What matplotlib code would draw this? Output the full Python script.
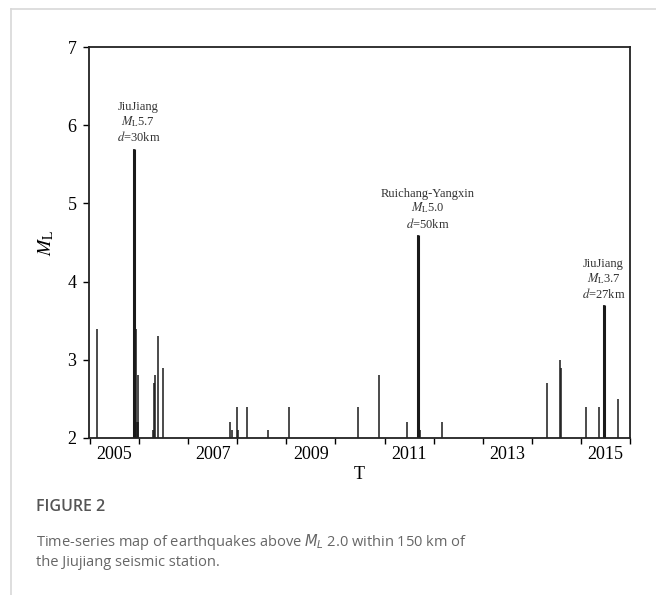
'''Time-series of earthquakes above ML 2.0 near the Jiujiang station'''
import matplotlib
matplotlib.use("Agg")
import matplotlib.pyplot as plt
from matplotlib.lines import Line2D

plt.rcParams['font.family'] = ['Liberation Serif', 'DejaVu Serif']
plt.rcParams['mathtext.fontset'] = 'stix'

# Event times (decimal year) and magnitudes
years = [2005.15, 2005.90, 2005.92, 2005.94, 2005.95, 2005.97, 2005.98,
         2006.28, 2006.30, 2006.33, 2006.39, 2006.48,
         2007.85, 2007.89, 2008.00, 2008.02, 2008.20, 2008.62, 2009.05,
         2010.46, 2010.89, 2011.46, 2011.69, 2011.70, 2011.72, 2012.16,
         2014.30, 2014.57, 2014.59, 2015.11, 2015.36, 2015.46, 2015.47,
         2015.75]
mags = [3.4, 5.7, 2.4, 3.4, 2.2, 2.2, 2.8,
        2.1, 2.7, 2.8, 3.3, 2.9,
        2.2, 2.1, 2.4, 2.1, 2.4, 2.1, 2.4,
        2.4, 2.8, 2.2, 4.6, 4.5, 2.1, 2.2,
        2.7, 3.0, 2.9, 2.4, 2.4, 3.7, 3.6,
        2.5]

# Labelled main shocks: (time, magnitude, name, distance)
main_years = [2005.90, 2011.69, 2015.46]
main_mags = [5.7, 4.6, 3.7]
main_names = ["JiuJiang", "Ruichang-Yangxin", "JiuJiang"]
main_ml = ["5.7", "5.0", "3.7"]
main_dist = ["30km", "50km", "27km"]

year_labels = ["2005", "2007", "2009", "2011", "2013", "2015"]

fig = plt.figure(figsize=(6.56, 5.95), dpi=100)
ax = fig.add_axes([0.1357, 0.2639, 0.8247, 0.6571])

ax.vlines(years, 2, mags, color='#1a1a1a', linewidth=1.1)
ax.vlines(main_years, 2, main_mags, color='#1a1a1a', linewidth=2.2)

offsets = [(3, 3), (7, 3), (0, 3)]
for x, y, name, ml, d, off in zip(main_years, main_mags, main_names,
                                  main_ml, main_dist, offsets):
    ax.annotate(name + "\n" + r"$M_{\rm L}$" + ml + "\n" + r"$d$=" + d,
                xy=(x, y), xytext=off, textcoords='offset points',
                ha='center', va='bottom', multialignment='center',
                fontsize=9, color='#333333', linespacing=1.1)

ax.set_xlim(2004.98, 2016.0)
ax.set_ylim(2, 7)

# year labels sit in the middle of the year, ticks at year starts
ax.set_xticks([int(y) + 0.5 for y in year_labels])
ax.set_xticklabels(year_labels)
ax.set_xticks(range(2005, 2017), minor=True)
ax.tick_params(axis='x', which='major', length=0, pad=6, labelsize=13)
ax.tick_params(axis='x', which='minor', direction='out', length=4,
               width=1.0)
ax.set_yticks(range(2, 8))
ax.tick_params(axis='y', direction='out', length=4, width=1.0,
               labelsize=13, pad=5)

for s in ax.spines.values():
    s.set_linewidth(1.3)
    s.set_color('#222222')

ax.set_xlabel("T", fontsize=13, labelpad=2)
ax.set_ylabel(r"$M_{\rm L}$", fontsize=14, labelpad=8)

# light frame around the figure panel
fig.add_artist(Line2D([11/656, 11/656], [0, 1 - 9/595], color='#d8d8d8',
                      linewidth=1.2, transform=fig.transFigure))
fig.add_artist(Line2D([11/656, 1], [1 - 9/595, 1 - 9/595], color='#d8d8d8',
                      linewidth=1.2, transform=fig.transFigure))

fig.text(36/656, 1 - 507/595, "FIGURE 2", family='Open Sans',
         fontsize=11.5, color='#555555', va='center', ha='left',
         weight='semibold')
fig.text(36/656, 1 - 542/595,
         "Time-series map of earthquakes above $M_L$ 2.0 within 150 km of",
         family='Open Sans', math_fontfamily='dejavusans', fontsize=10.5,
         color='#666666', va='center', ha='left')
fig.text(36/656, 1 - 563/595, "the Jiujiang seismic station.",
         family='Open Sans', fontsize=10.5, color='#666666',
         va='center', ha='left')

plt.savefig("out.png", dpi=100)
